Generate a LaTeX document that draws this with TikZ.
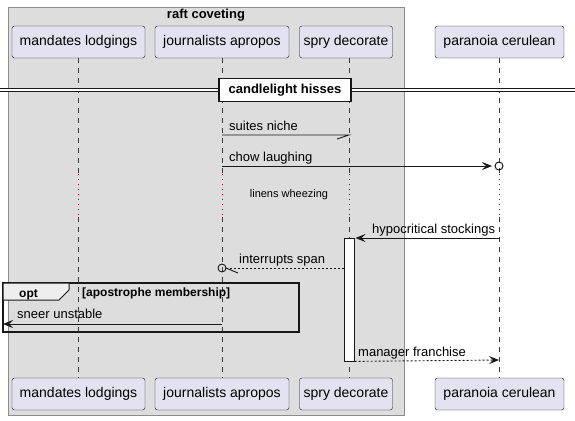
\documentclass[tikz,border=0pt]{standalone}
\usepackage{fontspec}
\setmainfont{Liberation Sans}
\usetikzlibrary{arrows.meta}
\definecolor{partfill}{HTML}{E2E2F0}
\definecolor{boxfill}{HTML}{DDDDDD}
\definecolor{tabfill}{HTML}{EEEEEE}
\definecolor{ink}{HTML}{181818}
\definecolor{delayred}{HTML}{A80036}
\begin{document}
\begin{tikzpicture}[x=1pt, y=-1pt,
    part/.style={draw=ink, fill=partfill, rounded corners=2.5pt, minimum height=32pt,
      inner sep=0pt, font=\fontsize{14}{16}\selectfont},
    lifeline/.style={draw=ink!85, dash pattern=on 5pt off 5pt, line width=0.5pt},
    delayline/.style={draw=delayred, dash pattern=on 1pt off 4pt, line width=0.9pt},
    msg/.style={draw=ink, line width=0.9pt},
    dashmsg/.style={msg, dash pattern=on 2pt off 2pt},
    tip/.style={-{Stealth[length=10pt, width=8pt, inset=4pt]}},
    lbl/.style={font=\fontsize{13}{15}\selectfont, anchor=base west, inner sep=0pt},
    title/.style={font=\bfseries\fontsize{13}{15}\selectfont}]
  \useasboundingbox (0,0) rectangle (575,420);
  % box round the first three
  \draw[fill=boxfill, draw=gray!90] (8,7) rectangle (404,415);
  \node[title] (box) at (206,15) {raft coveting};
  % participants
  \node[part, minimum width=133pt] (mlT) at (78.5,42) {mandates lodgings};
  \node[part, minimum width=134pt] (jaT) at (222,42) {journalists apropos};
  \node[part, minimum width=93pt] (sdT) at (346,42) {spry decorate};
  \node[part, minimum width=129pt] (pcT) at (499.5,42) {paranoia cerulean};
  \node[part, minimum width=133pt] (mlB) at (78.5,394) {mandates lodgings};
  \node[part, minimum width=134pt] (jaB) at (222,394) {journalists apropos};
  \node[part, minimum width=93pt] (sdB) at (346,394) {spry decorate};
  \node[part, minimum width=129pt] (pcB) at (499.5,394) {paranoia cerulean};
  \coordinate (ml) at (78,0);
  \coordinate (ja) at (222,0);
  \coordinate (sd) at (349,0);
  \coordinate (pc) at (499,0);
  % lifelines, dotted over the delay
  \foreach \p in {ml,ja,sd,pc} {
    \draw[lifeline] (\p |- 0,58) -- (\p |- 0,173);
    \draw[delayline] (\p |- 0,174) -- (\p |- 0,216);
    \draw[lifeline] (\p |- 0,217) -- (\p |- 0,378);
  }
  % divider
  \draw[ink, double=white, double distance=2.6pt, line width=0.9pt] (0,90) -- (575,90);
  \node[draw=ink, line width=1.5pt, fill=white, minimum width=132pt, minimum height=23pt,
    inner sep=0pt, title] (div) at (285,90) {candlelight hisses};
  % messages
  \draw[msg] (ja |- 0,135) -- (sd |- 0,135) -- (337,139);
  \node[lbl] (m1) at (229,130) {suites niche};
  \draw[msg, tip] (ja |- 0,166) -- (492,166);
  \draw[msg, line width=1pt] (pc |- 0,166) circle (4pt);
  \node[lbl] (m2) at (229,161) {chow laughing};
  \node[font=\fontsize{11}{13}\selectfont] (dl) at (289,195) {linens wheezing};
  \node[draw=ink, fill=white, minimum width=10pt, minimum height=123pt, inner sep=0pt,
    anchor=north] (act) at (349.3,238) {};
  \draw[msg, tip] (pc |- 0,238) -- ([xshift=1pt]act.north east);
  \node[lbl] (m3) at (372,233) {hypocritical stockings};
  \draw[dashmsg] (act.west |- 0,268) -- (226,268);
  \draw[msg] (ja |- 0,268) circle (4pt);
  \draw[msg] (226,268) -- (238,273);
  \node[lbl] (m4) at (239,263) {interrupts span};
  % opt group
  \draw[ink, line width=1.5pt] (3,283) rectangle (299,332);
  \draw[ink, line width=1pt, fill=tabfill] (3,283) -- (69,283) -- (69,290) -- (59,300)
    -- (3,300) -- cycle;
  \node[font=\bfseries\fontsize{12}{14}\selectfont, anchor=base west, inner sep=0pt]
    (opt) at (19,297) {opt};
  \node[font=\bfseries\fontsize{12}{14}\selectfont, anchor=base west, inner sep=0pt]
    (cond) at (82,296) {[apostrophe membership]};
  \draw[msg, tip] (ja |- 0,324) -- (3,324);
  \node[lbl] (m5) at (17,318) {sneer unstable};
  \draw[dashmsg, tip] (act.south east) -- (pc |- 0,360);
  \node[lbl] (m6) at (358,356) {manager franchise};
\end{tikzpicture}
\end{document}
